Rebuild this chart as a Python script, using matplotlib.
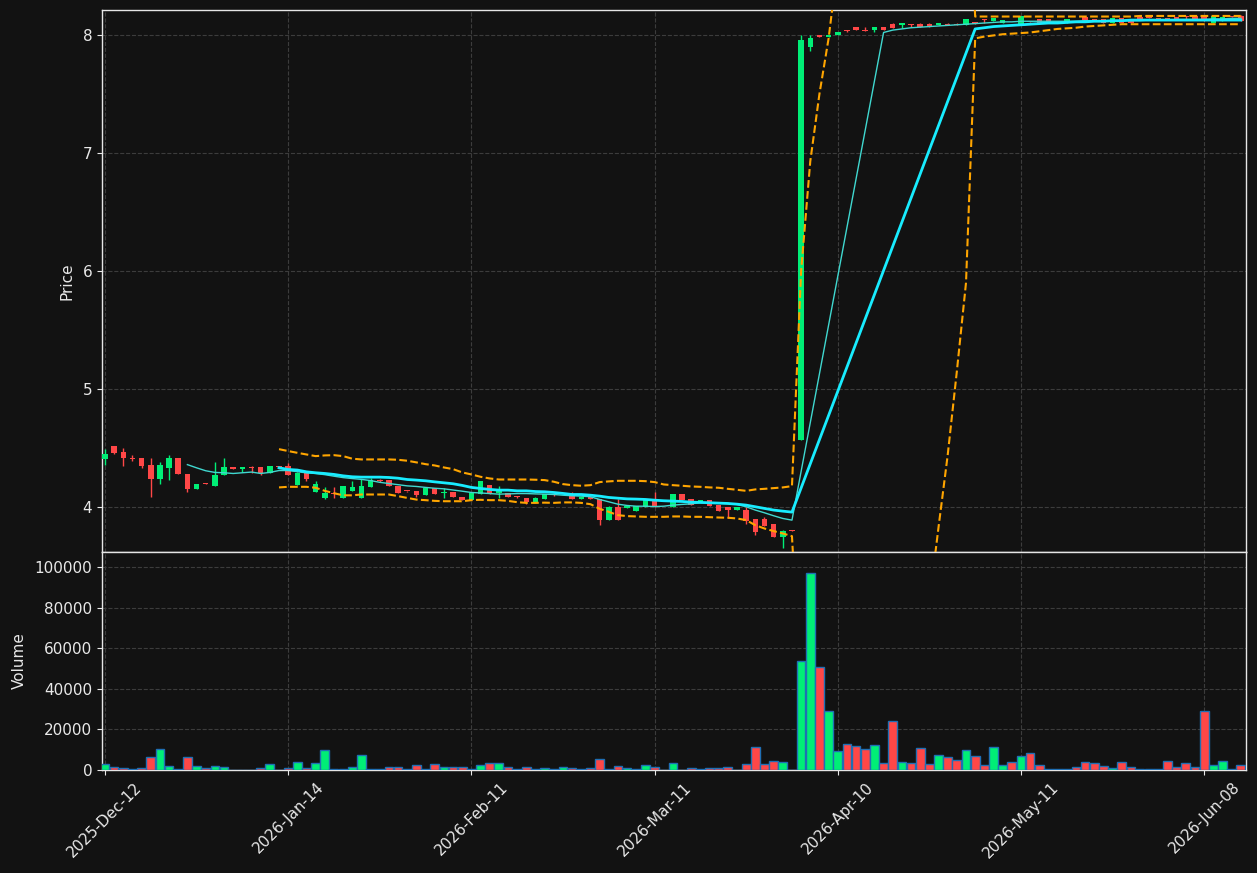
import matplotlib
matplotlib.use("Agg")
import matplotlib.pyplot as plt
import numpy as np

# ---- data (one entry per trading bar) ----
opens = [4.41, 4.52, 4.47, 4.42, 4.42, 4.36, 4.24, 4.33, 4.42, 4.28,
         4.15, 4.205, 4.18, 4.27, 4.34, 4.32, 4.34, 4.34, 4.285, 4.345,
         4.35, 4.19, 4.29, 4.13, 4.08, 4.12, 4.08, 4.14, 4.08, 4.17,
         4.23, 4.23, 4.18, 4.14, 4.14, 4.10, 4.16, 4.12, 4.13, 4.09,
         4.06, 4.11, 4.19, 4.12, 4.12, 4.095, 4.08, 4.04, 4.07, 4.11,
         4.10, 4.10, 4.07, 4.09, 4.07, 3.89, 4.00, 3.995, 3.97, 4.00,
         4.07, 4.04, 4.00, 4.11, 4.07, 4.04, 4.06, 4.02, 4.00, 3.975,
         3.975, 3.90, 3.90, 3.86, 3.75, 3.81, 4.57, 7.90, 8.00, 7.98,
         7.995, 8.04, 8.07, 8.04, 8.04, 8.07, 8.09, 8.08, 8.09, 8.09,
         8.09, 8.08, 8.09, 8.09, 8.08, 8.11, 8.13, 8.12, 8.10, 8.12,
         8.095, 8.12, 8.13, 8.13, 8.12, 8.10, 8.12, 8.155, 8.13, 8.13,
         8.10, 8.14, 8.13, 8.15, 8.15, 8.14, 8.14, 8.15, 8.155, 8.16,
         8.16, 8.10, 8.12, 8.16, 8.16]
highs = [4.49, 4.52, 4.50, 4.44, 4.42, 4.42, 4.38, 4.44, 4.42, 4.28,
         4.20, 4.205, 4.38, 4.42, 4.34, 4.34, 4.35, 4.34, 4.345, 4.35,
         4.37, 4.30, 4.29, 4.22, 4.17, 4.17, 4.18, 4.22, 4.24, 4.25,
         4.24, 4.23, 4.18, 4.14, 4.14, 4.16, 4.16, 4.16, 4.13, 4.09,
         4.12, 4.22, 4.19, 4.18, 4.12, 4.095, 4.08, 4.09, 4.11, 4.11,
         4.105, 4.13, 4.085, 4.09, 4.07, 4.01, 4.07, 4.01, 4.01, 4.07,
         4.13, 4.045, 4.11, 4.11, 4.07, 4.06, 4.06, 4.02, 4.00, 4.00,
         4.00, 3.90, 3.92, 3.86, 3.81, 3.81, 8.00, 8.00, 8.00, 8.00,
         8.02, 8.04, 8.07, 8.07, 8.07, 8.07, 8.10, 8.10, 8.09, 8.10,
         8.10, 8.10, 8.10, 8.10, 8.13, 8.11, 8.13, 8.14, 8.125, 8.12,
         8.16, 8.12, 8.13, 8.13, 8.12, 8.13, 8.12, 8.16, 8.13, 8.13,
         8.14, 8.14, 8.13, 8.16, 8.15, 8.14, 8.14, 8.15, 8.16, 8.16,
         8.16, 8.16, 8.15, 8.16, 8.17]
lows = [4.36, 4.45, 4.35, 4.39, 4.33, 4.09, 4.20, 4.23, 4.28, 4.13,
        4.15, 4.20, 4.18, 4.27, 4.32, 4.30, 4.29, 4.27, 4.285, 4.34,
        4.27, 4.19, 4.22, 4.13, 4.07, 4.08, 4.08, 4.14, 4.08, 4.17,
        4.21, 4.18, 4.12, 4.13, 4.09, 4.10, 4.11, 4.08, 4.085, 4.06,
        4.06, 4.11, 4.11, 4.08, 4.09, 4.08, 4.03, 4.04, 4.07, 4.095,
        4.10, 4.07, 4.07, 4.07, 3.85, 3.89, 3.89, 3.995, 3.97, 4.00,
        4.00, 4.04, 4.00, 4.06, 4.02, 4.04, 4.01, 3.97, 3.91, 3.975,
        3.86, 3.76, 3.84, 3.75, 3.65, 3.80, 4.57, 7.86, 7.98, 7.98,
        7.995, 8.02, 8.04, 8.035, 8.02, 8.04, 8.06, 8.06, 8.065, 8.07,
        8.07, 8.08, 8.085, 8.085, 8.08, 8.09, 8.10, 8.12, 8.10, 8.115,
        8.095, 8.11, 8.10, 8.10, 8.115, 8.10, 8.115, 8.127, 8.125, 8.10,
        8.10, 8.10, 8.10, 8.125, 8.145, 8.135, 8.135, 8.13, 8.13, 8.13,
        8.12, 8.10, 8.12, 8.155, 8.12]
closes = [4.45, 4.46, 4.42, 4.41, 4.35, 4.24, 4.36, 4.42, 4.28, 4.15,
          4.20, 4.20, 4.27, 4.34, 4.32, 4.34, 4.335, 4.29, 4.345, 4.34,
          4.27, 4.29, 4.24, 4.20, 4.12, 4.11, 4.18, 4.17, 4.18, 4.23,
          4.22, 4.18, 4.12, 4.135, 4.10, 4.16, 4.11, 4.13, 4.085, 4.06,
          4.12, 4.22, 4.11, 4.145, 4.09, 4.085, 4.04, 4.08, 4.11, 4.10,
          4.105, 4.07, 4.085, 4.07, 3.89, 4.00, 3.89, 4.01, 4.01, 4.07,
          4.00, 4.045, 4.11, 4.06, 4.02, 4.06, 4.01, 3.97, 3.975, 4.00,
          3.885, 3.79, 3.84, 3.75, 3.80, 3.80, 7.96, 7.97, 7.98, 8.00,
          8.02, 8.035, 8.04, 8.035, 8.07, 8.04, 8.06, 8.10, 8.085, 8.07,
          8.07, 8.10, 8.085, 8.085, 8.13, 8.09, 8.125, 8.14, 8.125, 8.115,
          8.16, 8.11, 8.10, 8.10, 8.115, 8.13, 8.115, 8.127, 8.125, 8.10,
          8.14, 8.10, 8.10, 8.125, 8.145, 8.135, 8.135, 8.13, 8.15, 8.13,
          8.13, 8.16, 8.15, 8.155, 8.12]
volumes = [2800, 1640, 1150, 660, 1150, 6240, 10180, 2130, 660, 6240,
           2130, 1150, 2130, 1640, 200, 150, 150, 1150, 2800, 0,
           1150, 3780, 1150, 3280, 9690, 660, 660, 1640, 7220, 660,
           660, 1310, 1310, 330, 2300, 330, 2790, 1640, 1640, 1310,
           660, 2300, 3280, 3280, 1310, 330, 1310, 330, 820, 330,
           1310, 820, 330, 820, 5250, 330, 1800, 820, 330, 2300,
           1310, 0, 3280, 0, 820, 330, 820, 820, 1310, 0,
           2790, 11170, 2790, 4430, 3780, 0, 53530, 96880, 50570, 29230,
           9520, 12640, 11660, 10180, 12150, 3280, 24300, 3780, 3280, 10670,
           2790, 7220, 6240, 4760, 9690, 6730, 2300, 11170, 2300, 3780,
           6730, 8210, 2300, 660, 660, 660, 1640, 3780, 3280, 1810,
           820, 3780, 1310, 660, 660, 660, 4270, 1310, 3280, 1310,
           28900, 2300, 4270, 660, 2300]

N = None
ma10 = [N, N, N, N, N, N, N, N, N, 4.36,
        4.333, 4.308, 4.294, 4.291, 4.285, 4.291, 4.297, 4.285, 4.294, 4.31,
        4.31, 4.30, 4.29, 4.285, 4.275, 4.262, 4.25, 4.242, 4.235, 4.225,
        4.21, 4.20, 4.19, 4.18, 4.175, 4.167, 4.16, 4.155, 4.145, 4.135,
        4.124, 4.12, 4.115, 4.11, 4.112, 4.115, 4.115, 4.112, 4.11, 4.107,
        4.101, 4.096, 4.093, 4.088, 4.065, 4.045, 4.025, 4.014, 4.008, 4.008,
        4.005, 4.008, 4.017, 4.023, 4.028, 4.037, 4.037, 4.034, 4.031, 4.023,
        4.003, 3.975, 3.952, 3.927, 3.904, 3.89, N, N, N, N,
        N, N, N, N, N, 8.02, 8.04, 8.05, 8.06, 8.065,
        8.07, 8.075, 8.08, 8.085, 8.09, 8.095, 8.10, 8.105, 8.11, 8.11,
        8.115, 8.115, 8.115, 8.115, 8.115, 8.115, 8.115, 8.12, 8.12, 8.12,
        8.12, 8.12, 8.12, 8.12, 8.125, 8.125, 8.125, 8.13, 8.13, 8.13,
        8.13, 8.135, 8.135, 8.14, 8.14]
ma20 = [N, N, N, N, N, N, N, N, N, N,
        N, N, N, N, N, N, N, N, N, 4.333,
        4.319, 4.314, 4.299, 4.291, 4.285, 4.277, 4.265, 4.257, 4.254, 4.254,
        4.254, 4.251, 4.245, 4.234, 4.229, 4.223, 4.214, 4.206, 4.198, 4.184,
        4.167, 4.158, 4.15, 4.144, 4.144, 4.138, 4.138, 4.132, 4.13, 4.124,
        4.116, 4.107, 4.107, 4.101, 4.093, 4.082, 4.076, 4.07, 4.068, 4.065,
        4.059, 4.054, 4.051, 4.048, 4.042, 4.04, 4.037, 4.034, 4.031, 4.025,
        4.017, 4.003, 3.989, 3.975, 3.966, 3.958, N, N, N, N,
        N, N, N, N, N, N, N, N, N, N,
        N, N, N, N, N, 8.05, 8.06, 8.07, 8.075, 8.08,
        8.085, 8.09, 8.095, 8.10, 8.10, 8.105, 8.11, 8.11, 8.115, 8.115,
        8.12, 8.12, 8.125, 8.125, 8.125, 8.125, 8.125, 8.125, 8.125, 8.125,
        8.125, 8.125, 8.125, 8.125, 8.125]
bb_upper = [N, N, N, N, N, N, N, N, N, N,
            N, N, N, N, N, N, N, N, N, 4.491,
            4.475, 4.46, 4.446, 4.432, 4.438, 4.44, 4.432, 4.41, 4.404, 4.404,
            4.404, 4.404, 4.401, 4.393, 4.379, 4.364, 4.353, 4.336, 4.322, 4.294,
            4.277, 4.257, 4.243, 4.234, 4.234, 4.234, 4.234, 4.232, 4.229, 4.215,
            4.195, 4.186, 4.181, 4.186, 4.212, 4.218, 4.223, 4.223, 4.223, 4.22,
            4.212, 4.192, 4.186, 4.181, 4.175, 4.172, 4.167, 4.164, 4.155, 4.147,
            4.138, 4.15, 4.155, 4.161, 4.167, 4.178, 6.0, 6.93, 7.5, 7.97,
            8.6, 9.0, 9.4, 9.75, 10.0, 10.2, 10.35, 10.5, 10.6, 10.65,
            10.7, 10.6, 10.45, 10.15, 9.7, 8.155, 8.155, 8.155, 8.155, 8.155,
            8.155, 8.155, 8.155, 8.155, 8.155, 8.155, 8.155, 8.155, 8.155, 8.155,
            8.155, 8.155, 8.155, 8.16, 8.16, 8.16, 8.16, 8.16, 8.16, 8.16,
            8.16, 8.16, 8.16, 8.16, 8.16]
bb_lower = [N, N, N, N, N, N, N, N, N, N,
            N, N, N, N, N, N, N, N, N, 4.167,
            4.172, 4.172, 4.172, 4.164, 4.138, 4.118, 4.10, 4.10, 4.107, 4.107,
            4.107, 4.107, 4.093, 4.078, 4.064, 4.059, 4.053, 4.05, 4.05, 4.05,
            4.059, 4.062, 4.059, 4.059, 4.053, 4.042, 4.036, 4.036, 4.038, 4.036,
            4.04, 4.04, 4.036, 4.025, 3.986, 3.96, 3.932, 3.924, 3.921, 3.918,
            3.918, 3.918, 3.921, 3.921, 3.918, 3.918, 3.915, 3.912, 3.91, 3.904,
            3.89, 3.847, 3.819, 3.797, 3.777, 3.754, 2.33, 1.85, 1.6, 1.45,
            1.3, 1.3, 1.4, 1.55, 1.7, 1.85, 2.05, 2.3, 2.6, 2.95,
            3.2, 3.83, 4.44, 5.15, 5.9, 7.97, 7.985, 7.995, 8.005, 8.01,
            8.015, 8.02, 8.03, 8.04, 8.05, 8.055, 8.06, 8.07, 8.075, 8.08,
            8.085, 8.09, 8.09, 8.09, 8.09, 8.09, 8.09, 8.09, 8.09, 8.09,
            8.09, 8.09, 8.09, 8.09, 8.09]

tick_pos = [0, 20, 40, 60, 80, 100, 120]
tick_labels = ["2025-Dec-12", "2026-Jan-14", "2026-Feb-11", "2026-Mar-11",
               "2026-Apr-10", "2026-May-11", "2026-Jun-08"]

# ---- style ----
BG = "#121212"
UP = "#00ee76"
DOWN = "#ff4747"
FG = "#e8e8e8"

fig = plt.figure(figsize=(12.57, 8.73), dpi=100, facecolor=BG)
ax = fig.add_axes([0.0811, 0.3677, 0.9101, 0.6208], facecolor=BG)
axv = fig.add_axes([0.0811, 0.1180, 0.9101, 0.2497], facecolor=BG, sharex=ax)

x = np.arange(len(closes))
o = np.array(opens); c = np.array(closes)
h = np.array(highs); l = np.array(lows)
colors = [UP if cc >= oo else DOWN for oo, cc in zip(o, c)]

# candles
ax.vlines(x, l, h, colors=colors, linewidth=1.0, zorder=3)
body = np.maximum(np.abs(c - o), 0.006)
ax.bar(x, body, bottom=np.minimum(o, c), width=0.6, color=colors,
       linewidth=0, zorder=4)


def line(vals, **kw):
    xs = [i for i, v in enumerate(vals) if v is not None]
    ys = [v for v in vals if v is not None]
    ax.plot(xs, ys, **kw)


line(ma10, color="#40d8d0", linewidth=1.0, zorder=5)
line(ma20, color="#18ecff", linewidth=2.0, zorder=5)
line(bb_upper, color="#ffa500", linewidth=1.5, linestyle="--", zorder=6)
line(bb_lower, color="#ffa500", linewidth=1.5, linestyle="--", zorder=6)

# volume
axv.bar(x, volumes, width=0.95, color=colors, edgecolor="#1f6fb4",
        linewidth=1.0, zorder=3)

ax.set_xlim(-0.33, 124.56)
ax.set_ylim(3.62, 8.21)
axv.set_ylim(0, 107400)
ax.set_yticks([4, 5, 6, 7, 8])
axv.set_yticks([0, 20000, 40000, 60000, 80000, 100000])
axv.set_xticks(tick_pos)
axv.set_xticklabels(tick_labels, rotation=45)
ax.tick_params(axis="x", labelbottom=False, length=0)

for a in (ax, axv):
    a.grid(True, color="#3c3c3c", linestyle="--", linewidth=0.8)
    a.set_axisbelow(True)
    a.tick_params(colors=FG, labelsize=11)
    for s in a.spines.values():
        s.set_color("#e6e6e6")
        s.set_linewidth(1.0)

ax.set_ylabel("Price", color=FG, fontsize=11)
axv.set_ylabel("Volume", color=FG, fontsize=11)
ax.yaxis.set_label_coords(-0.0236, 0.5)
axv.yaxis.set_label_coords(-0.0652, 0.5)

fig.savefig("out.png", dpi=100, facecolor=BG)
